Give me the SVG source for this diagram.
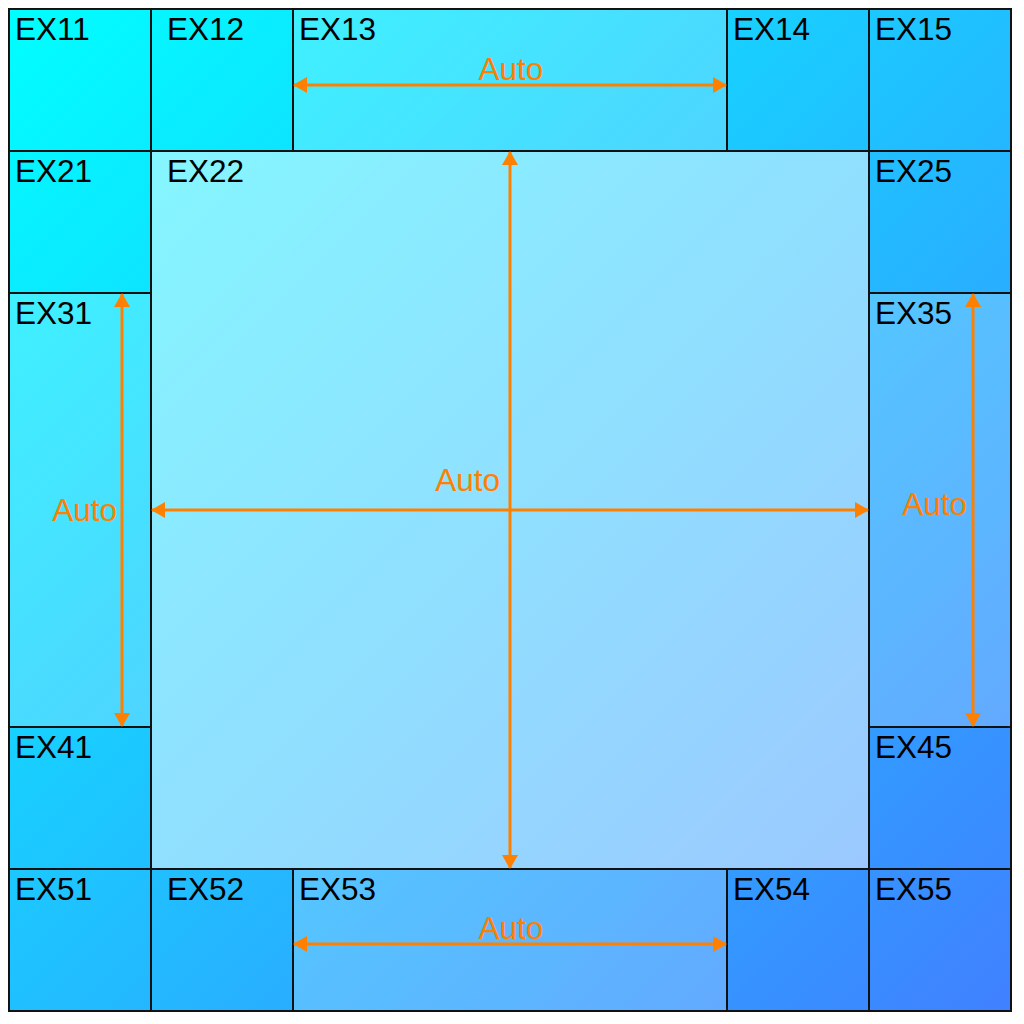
<svg xmlns="http://www.w3.org/2000/svg" width="1024" height="1024" viewBox="0 0 1024 1024">
<defs>
<linearGradient id="g" gradientUnits="userSpaceOnUse" x1="9" y1="9" x2="1011" y2="1011">
<stop offset="0" stop-color="#00FFFF"/>
<stop offset="1" stop-color="#4080FF"/>
</linearGradient>
<marker id="ah" markerUnits="userSpaceOnUse" markerWidth="14" markerHeight="16" viewBox="0 0 14 16" refX="13" refY="8" orient="auto-start-reverse">
<path d="M0,0 L14,8 L0,16 Z" fill="#FF8000"/>
</marker>
<style>
.c{fill:url(#g);stroke:#111;stroke-width:2}
.w1{fill:#fff;fill-opacity:0.22;stroke:none}
.w2{fill:#fff;fill-opacity:0.5;stroke:none}
.t{font-family:"Liberation Sans",Arial,sans-serif;font-size:31.5px;fill:#000}
.a{fill:none;stroke:#FF8000;stroke-width:3;marker-start:url(#ah);marker-end:url(#ah)}
.l{font-family:"Liberation Sans",Arial,sans-serif;font-size:31.5px;fill:#FF8000}
</style>
</defs>
<rect x="0" y="0" width="1024" height="1024" fill="#fff"/>
<g id="EX11"><rect class="c" x="9" y="9" width="142" height="142"/><text class="t" x="15" y="40">EX11</text></g>
<g id="EX12"><rect class="c" x="151" y="9" width="142" height="142"/><text class="t" x="167" y="40">EX12</text></g>
<g id="EX13"><rect class="c" x="293" y="9" width="434" height="142"/><rect class="w1" x="294" y="10" width="432" height="140"/><text class="t" x="299" y="40">EX13</text></g>
<g id="EX14"><rect class="c" x="727" y="9" width="142" height="142"/><text class="t" x="733" y="40">EX14</text></g>
<g id="EX15"><rect class="c" x="869" y="9" width="142" height="142"/><text class="t" x="875" y="40">EX15</text></g>
<g id="EX21"><rect class="c" x="9" y="151" width="142" height="142"/><text class="t" x="15" y="182">EX21</text></g>
<g id="EX22"><rect class="c" x="151" y="151" width="718" height="718"/><rect class="w2" x="152" y="152" width="716" height="716"/><text class="t" x="167" y="182">EX22</text></g>
<g id="EX25"><rect class="c" x="869" y="151" width="142" height="142"/><text class="t" x="875" y="182">EX25</text></g>
<g id="EX31"><rect class="c" x="9" y="293" width="142" height="434"/><rect class="w1" x="10" y="294" width="140" height="432"/><text class="t" x="15" y="324">EX31</text></g>
<g id="EX35"><rect class="c" x="869" y="293" width="142" height="434"/><rect class="w1" x="870" y="294" width="140" height="432"/><text class="t" x="875" y="324">EX35</text></g>
<g id="EX41"><rect class="c" x="9" y="727" width="142" height="142"/><text class="t" x="15" y="758">EX41</text></g>
<g id="EX45"><rect class="c" x="869" y="727" width="142" height="142"/><text class="t" x="875" y="758">EX45</text></g>
<g id="EX51"><rect class="c" x="9" y="869" width="142" height="142"/><text class="t" x="15" y="900">EX51</text></g>
<g id="EX52"><rect class="c" x="151" y="869" width="142" height="142"/><text class="t" x="167" y="900">EX52</text></g>
<g id="EX53"><rect class="c" x="293" y="869" width="434" height="142"/><rect class="w1" x="294" y="870" width="432" height="140"/><text class="t" x="299" y="900">EX53</text></g>
<g id="EX54"><rect class="c" x="727" y="869" width="142" height="142"/><text class="t" x="733" y="900">EX54</text></g>
<g id="EX55"><rect class="c" x="869" y="869" width="142" height="142"/><text class="t" x="875" y="900">EX55</text></g>
<g id="connectors">
<line class="a" x1="294" y1="85" x2="726" y2="85"/>
<text class="l" x="511" y="80" text-anchor="middle">Auto</text>
<line class="a" x1="510" y1="152" x2="510" y2="868"/>
<line class="a" x1="152" y1="510" x2="868" y2="510"/>
<text class="l" x="500" y="491" text-anchor="end">Auto</text>
<line class="a" x1="122" y1="294" x2="122" y2="726"/>
<text class="l" x="117" y="521" text-anchor="end">Auto</text>
<line class="a" x1="973" y1="294" x2="973" y2="726"/>
<text class="l" x="967" y="515" text-anchor="end">Auto</text>
<line class="a" x1="294" y1="944" x2="726" y2="944"/>
<text class="l" x="511" y="939" text-anchor="middle">Auto</text>
</g>
</svg>
